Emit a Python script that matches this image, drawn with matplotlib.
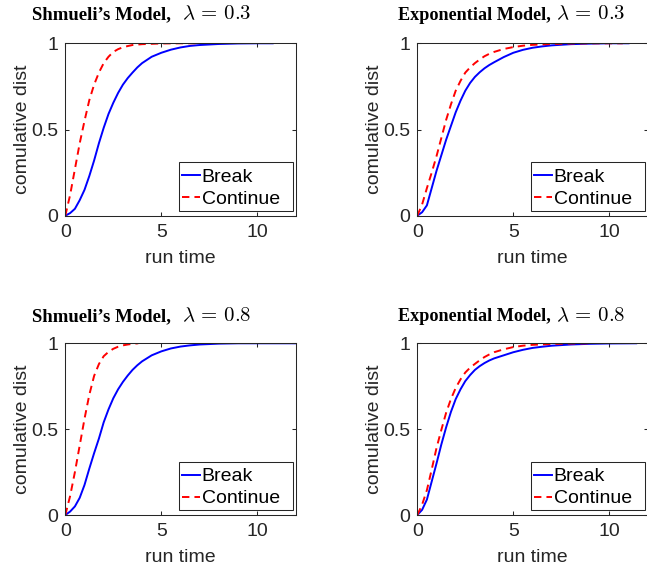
import matplotlib
matplotlib.use("Agg")
import matplotlib.pyplot as plt
from matplotlib.patches import Rectangle

plt.rcParams['mathtext.fontset'] = 'cm'
plt.rcParams['font.family'] = ['Liberation Sans', 'DejaVu Sans']

# ---------------- data ----------------
title_texts = ["Shmueli\u2019s Model,", "Exponential Model,",
               "Shmueli\u2019s Model,", "Exponential Model,"]
lambda_values = ["0.3", "0.3", "0.8", "0.8"]
series_labels = ["Break", "Continue"]
x_ticks = [0, 5, 10]
y_ticks = [0, 0.5, 1]
y_tick_labels = ["0", "0.5", "1"]

# Panel 1: Shmueli, lambda = 0.3
p1_break_t = [0, 0.25, 0.5, 0.75, 1.0, 1.25, 1.5, 1.75, 2.0, 2.25, 2.5, 2.75, 3.0, 3.25, 3.5, 3.75, 4.0, 4.5, 5.0, 5.5, 6.0, 6.5, 7.0, 8.0, 9.0, 10.0, 10.8]
p1_break_y = [0, 0.015, 0.04, 0.09, 0.15, 0.23, 0.32, 0.42, 0.51, 0.59, 0.655, 0.712, 0.76, 0.798, 0.83, 0.86, 0.885, 0.922, 0.945, 0.963, 0.976, 0.985, 0.99, 0.996, 0.999, 1.0, 1.0]
p1_cont_t = [0, 0.25, 0.5, 0.75, 1.0, 1.25, 1.5, 1.75, 2.0, 2.25, 2.5, 2.75, 3.0, 3.25, 3.5, 4.0, 5.0, 6.0, 6.8]
p1_cont_y = [0, 0.12, 0.27, 0.42, 0.55, 0.67, 0.76, 0.83, 0.885, 0.922, 0.95, 0.966, 0.977, 0.984, 0.99, 0.995, 0.999, 1.0, 1.0]

# Panel 2: Exponential, lambda = 0.3
p2_break_t = [0, 0.25, 0.5, 0.75, 1.0, 1.25, 1.5, 1.75, 2.0, 2.25, 2.5, 2.75, 3.0, 3.25, 3.5, 3.75, 4.0, 4.5, 5.0, 5.5, 6.0, 6.5, 7.0, 8.0, 9.0, 10.0, 11.0]
p2_break_y = [0, 0.02, 0.06, 0.16, 0.26, 0.35, 0.44, 0.52, 0.60, 0.667, 0.725, 0.77, 0.805, 0.832, 0.855, 0.874, 0.89, 0.92, 0.945, 0.962, 0.974, 0.982, 0.988, 0.995, 0.998, 1.0, 1.0]
p2_cont_t = [0, 0.25, 0.5, 0.75, 1.0, 1.25, 1.5, 1.75, 2.0, 2.25, 2.5, 2.75, 3.0, 3.25, 3.5, 3.75, 4.0, 4.5, 5.0, 5.5, 6.0, 7.0, 8.0, 9.0, 10.7]
p2_cont_y = [0, 0.065, 0.16, 0.25, 0.345, 0.45, 0.555, 0.645, 0.725, 0.782, 0.83, 0.86, 0.885, 0.906, 0.925, 0.939, 0.95, 0.967, 0.978, 0.986, 0.991, 0.996, 0.999, 1.0, 1.0]

# Panel 3: Shmueli, lambda = 0.8
p3_break_t = [0, 0.25, 0.5, 0.75, 1.0, 1.25, 1.5, 1.75, 2.0, 2.25, 2.5, 2.75, 3.0, 3.25, 3.5, 3.75, 4.0, 4.5, 5.0, 5.5, 6.0, 6.5, 7.0, 8.0, 9.0, 12.0]
p3_break_y = [0, 0.02, 0.05, 0.10, 0.175, 0.27, 0.36, 0.445, 0.54, 0.615, 0.68, 0.732, 0.775, 0.812, 0.845, 0.872, 0.895, 0.93, 0.953, 0.97, 0.981, 0.988, 0.993, 0.998, 1.0, 1.0]
p3_cont_t = [0, 0.25, 0.5, 0.75, 1.0, 1.25, 1.5, 1.75, 2.0, 2.25, 2.5, 2.75, 3.0, 3.25, 3.5, 3.8]
p3_cont_y = [0, 0.11, 0.25, 0.405, 0.56, 0.70, 0.81, 0.879, 0.925, 0.95, 0.968, 0.98, 0.988, 0.993, 0.997, 1.0]

# Panel 4: Exponential, lambda = 0.8
p4_break_t = [0, 0.25, 0.5, 0.75, 1.0, 1.25, 1.5, 1.75, 2.0, 2.25, 2.5, 2.75, 3.0, 3.25, 3.5, 3.75, 4.0, 4.5, 5.0, 5.5, 6.0, 6.5, 7.0, 8.0, 9.0, 10.0, 11.4]
p4_break_y = [0, 0.03, 0.09, 0.195, 0.30, 0.41, 0.51, 0.60, 0.675, 0.732, 0.78, 0.815, 0.845, 0.867, 0.885, 0.90, 0.912, 0.93, 0.948, 0.962, 0.973, 0.98, 0.986, 0.993, 0.997, 0.999, 1.0]
p4_cont_t = [0, 0.25, 0.5, 0.75, 1.0, 1.25, 1.5, 1.75, 2.0, 2.25, 2.5, 2.75, 3.0, 3.25, 3.5, 3.75, 4.0, 4.5, 5.0, 5.5, 6.0, 7.0, 8.0, 8.9]
p4_cont_y = [0, 0.06, 0.145, 0.265, 0.39, 0.495, 0.595, 0.675, 0.74, 0.79, 0.83, 0.858, 0.88, 0.901, 0.92, 0.935, 0.948, 0.965, 0.978, 0.986, 0.991, 0.996, 0.999, 1.0]

panels = [
    (p1_break_t, p1_break_y, p1_cont_t, p1_cont_y),
    (p2_break_t, p2_break_y, p2_cont_t, p2_cont_y),
    (p3_break_t, p3_break_y, p3_cont_t, p3_cont_y),
    (p4_break_t, p4_break_y, p4_cont_t, p4_cont_y),
]

# ---------------- layout (pixels) ----------------
W, H = 647, 569
fig = plt.figure(figsize=(W / 100, H / 100), dpi=100)
fig.patch.set_facecolor('white')

ax_lefts = [65.3, 417.3, 65.3, 417.3]
ax_tops = [43.3, 43.3, 343.3, 343.3]
ax_bottoms = [215.7, 215.7, 515.0, 515.0]
ax_w = 230.4
title_x = [32, 397.7, 32, 397.7]
title_size = [13.5, 13.1, 13.5, 13.1]
math_x = [182, 556, 182, 556]
title_y = [19.5, 19.5, 321.0, 321.0]

# legend box in pixels relative to axes
leg_left_px, leg_right_px = 113.7, 228.0
leg_bottom_px, leg_top_px = 4.7, 53.4

dark = '#262626'

for i, (bt, by, ct, cy) in enumerate(panels):
    hpx = ax_bottoms[i] - ax_tops[i]
    ax = fig.add_axes([ax_lefts[i] / W, 1 - ax_bottoms[i] / H, ax_w / W, hpx / H])
    ax.plot(bt, by, color='#0000ff', lw=1.4, label=series_labels[0])
    ax.plot(ct, cy, color='#ff0000', lw=1.4, linestyle=(0, (3.8, 2.6)), label=series_labels[1])
    ax.set_xlim(0, 12)
    ax.set_ylim(0, 1)
    ax.set_xticks(x_ticks)
    ax.set_yticks(y_ticks)
    ax.set_yticklabels(y_tick_labels)
    ax.tick_params(direction='in', length=3, width=0.75, top=True, right=True,
                   colors=dark, labelsize=14)
    ax.tick_params(axis='x', pad=6)
    ax.tick_params(axis='y', pad=5)
    for s in ax.spines.values():
        s.set_color(dark)
        s.set_linewidth(0.75)
    ax.set_xlabel("run time", fontsize=14, color=dark, labelpad=6.5)
    ax.set_ylabel("comulative dist", fontsize=14, color=dark, labelpad=0)

    x0 = leg_left_px / ax_w
    x1 = leg_right_px / ax_w
    y0 = leg_bottom_px / hpx
    y1 = leg_top_px / hpx
    ax.add_patch(Rectangle((x0, y0), x1 - x0, y1 - y0, transform=ax.transAxes,
                           facecolor='white', edgecolor=dark, lw=0.75, zorder=4))
    leg = ax.legend(loc='upper left', bbox_to_anchor=(x0, y1 - 3.5 / hpx), fontsize=14,
                    handlelength=0.95, handletextpad=0.08, borderpad=0.14,
                    labelspacing=0.22, borderaxespad=0, frameon=False)
    leg.set_zorder(5)
    for t in leg.get_texts():
        t.set_color('black')

    fig.text(title_x[i] / W, 1 - title_y[i] / H, title_texts[i],
             family='Liberation Serif', fontweight='bold', fontsize=title_size[i],
             ha='left', va='baseline', color='black')
    fig.text(math_x[i] / W, 1 - title_y[i] / H,
             "$\\lambda\\,=\\,%s$" % lambda_values[i],
             fontsize=15, ha='left', va='baseline', color='black')

fig.savefig('out.png', dpi=100)
